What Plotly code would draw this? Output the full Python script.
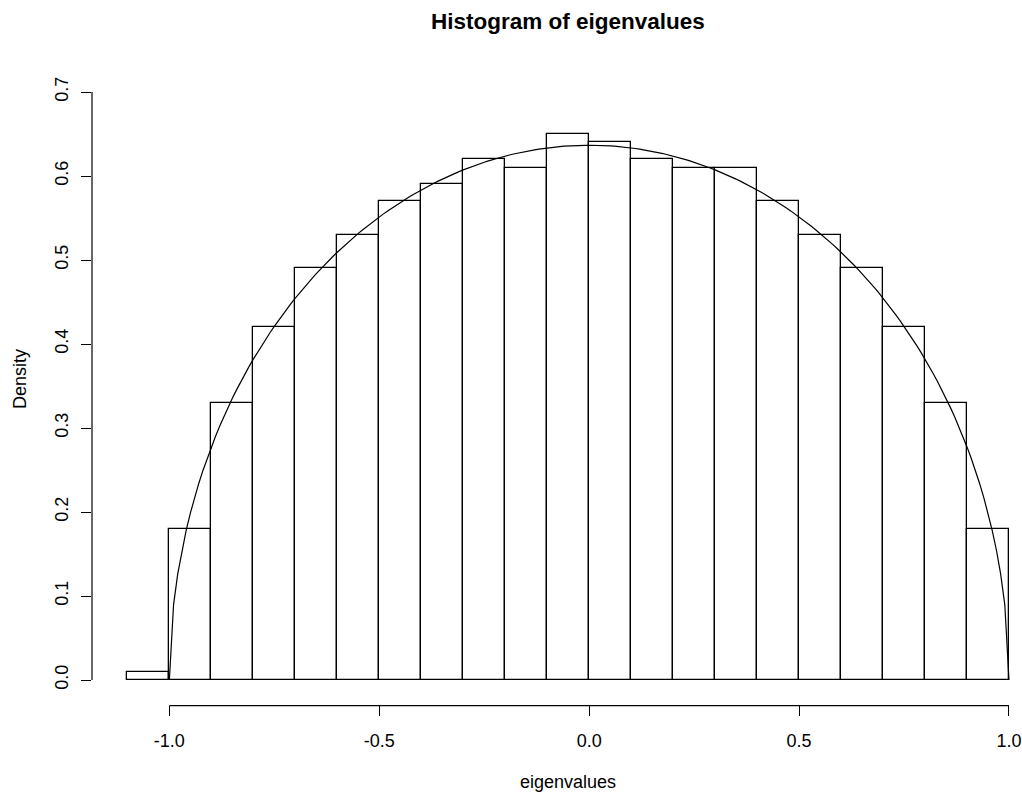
import numpy as np
import plotly.graph_objects as go

# ---- data ----
bin_left = [-1.1, -1.0, -0.9, -0.8, -0.7, -0.6, -0.5, -0.4, -0.3, -0.2, -0.1,
            0.0, 0.1, 0.2, 0.3, 0.4, 0.5, 0.6, 0.7, 0.8, 0.9]
density = [0.01, 0.18, 0.33, 0.42, 0.49, 0.53, 0.57, 0.59, 0.62, 0.61, 0.65,
           0.64, 0.62, 0.61, 0.61, 0.57, 0.53, 0.49, 0.42, 0.33, 0.18]
bin_width = 0.1

x_tick_vals = [-1.0, -0.5, 0.0, 0.5, 1.0]
x_tick_text = ["-1.0", "-0.5", "0.0", "0.5", "1.0"]
y_tick_vals = [0.0, 0.1, 0.2, 0.3, 0.4, 0.5, 0.6, 0.7]
y_tick_text = ["0.0", "0.1", "0.2", "0.3", "0.4", "0.5", "0.6", "0.7"]

title_text = "Histogram of eigenvalues"
x_title = "eigenvalues"
y_title = "Density"

# semicircle law curve drawn over the histogram
curve_x = np.linspace(-1.0, 1.0, 201)
curve_y = 2.0 / np.pi * np.sqrt(np.clip(1.0 - curve_x ** 2, 0, None))

centers = [l + bin_width / 2 for l in bin_left]

FONT = "Liberation Sans, Arial, Helvetica, sans-serif"

fig = go.Figure()
fig.add_trace(go.Bar(
    x=centers, y=density, width=bin_width,
    marker=dict(color="white", line=dict(color="black", width=1.3)),
    showlegend=False, hoverinfo="x+y",
))
fig.add_trace(go.Scatter(
    x=curve_x, y=curve_y, mode="lines",
    line=dict(color="black", width=1.2),
    showlegend=False,
))

x_axis_level = -0.0306

fig.update_layout(
    width=1022, height=798,
    paper_bgcolor="white", plot_bgcolor="white",
    margin=dict(l=92, r=0, t=68, b=82, autoexpand=False),
    font=dict(family=FONT, size=18, color="black"),
    bargap=0,
    xaxis=dict(
        range=[-1.1843, 1.0310], showgrid=False, zeroline=False, showline=False,
        tickvals=x_tick_vals, ticktext=x_tick_text,
        ticks="inside", ticklen=10, tickwidth=1, tickcolor="black",
        ticklabelstandoff=12,
        tickfont=dict(family=FONT, size=18, color="black"),
    ),
    yaxis=dict(
        range=[-0.04286, 0.7286], showgrid=False, zeroline=False, showline=False,
        tickvals=y_tick_vals, ticktext=y_tick_text,
        ticks="outside", ticklen=10, tickwidth=1, tickcolor="black",
        tickangle=-90, ticklabelstandoff=6,
        tickfont=dict(family=FONT, size=18, color="black"),
    ),
    shapes=[
        dict(type="line", xref="paper", yref="y", x0=0, x1=0, y0=0, y1=0.7,
             line=dict(color="black", width=1.2)),
        dict(type="line", xref="x", yref="y", x0=-1.0, x1=1.0,
             y0=x_axis_level, y1=x_axis_level,
             line=dict(color="black", width=1.2)),
    ],
    annotations=[
        dict(text="<b>" + title_text + "</b>", xref="paper", yref="paper",
             x=0.5118, y=1.071, xanchor="center", yanchor="middle",
             showarrow=False, font=dict(family=FONT, size=22.5, color="black")),
        dict(text=x_title, xref="paper", yref="paper",
             x=0.5118, y=-0.1019, xanchor="center", yanchor="middle",
             showarrow=False, font=dict(family=FONT, size=18, color="black")),
        dict(text=y_title, xref="paper", yref="paper", textangle=-90,
             x=-0.0774, y=0.52, xanchor="center", yanchor="middle",
             showarrow=False, font=dict(family=FONT, size=18, color="black")),
    ],
)

fig.write_html("out.html")
